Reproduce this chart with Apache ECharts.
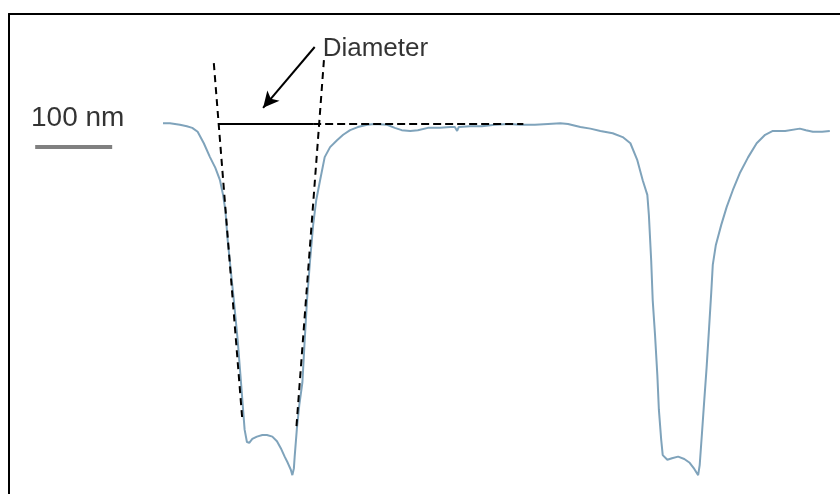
<!DOCTYPE html>
<html>
<head>
<meta charset="utf-8">
<script src="https://cdn.jsdelivr.net/npm/echarts@6.0.0/dist/echarts.min.js"></script>
<style>
  html, body { margin: 0; padding: 0; background: #fff; }
  #chart { width: 840px; height: 494px; }
</style>
</head>
<body>
<div id="chart"></div>
<script>
// Height profile across two pores: distance along the scan (nm) and height (nm, 0 = top surface)
const distanceNm = [
  0, 9, 22, 31, 38, 45, 53, 61, 68, 74,
  78, 81, 84, 88, 92, 97, 101, 104, 106, 109,
  112, 116, 122, 129, 135, 142, 148, 153, 158, 162,
  166, 168, 170, 171, 174, 177, 181, 184, 187, 191,
  195, 199, 204, 210, 217, 226, 234, 243, 253, 265,
  275, 291, 301, 310, 321, 331, 344, 360, 373, 379,
  382, 384, 399, 414, 431, 449, 464, 483, 500, 516,
  526, 542, 555, 568, 584, 597, 607, 616, 623, 629,
  631, 634, 636, 639, 642, 644, 647, 649, 655, 661,
  669, 677, 684, 690, 695, 697, 700, 703, 706, 709,
  712, 714, 718, 725, 732, 740, 749, 760, 771, 782,
  792, 808, 827, 835, 844, 856, 866
];
const heightNm = [
  1, 1, -1, -3, -5, -10, -25, -43, -57, -73,
  -92, -112, -151, -190, -229, -281, -332, -371, -397, -413,
  -414, -409, -406, -404, -404, -406, -412, -421, -432, -440,
  -449, -456, -447, -432, -394, -365, -336, -281, -229, -177,
  -131, -99, -73, -43, -30, -21, -14, -8, -4, -1,
  0, -1, -5, -8, -9, -8, -5, -5, -4, -4,
  -9, -4, -3, -3, -1, 0, -1, -1, 0, 1,
  0, -4, -6, -9, -12, -17, -25, -47, -73, -92,
  -118, -177, -229, -274, -326, -371, -410, -430, -436, -434,
  -432, -435, -440, -448, -456, -443, -401, -358, -316, -268,
  -219, -183, -157, -131, -108, -86, -64, -43, -25, -14,
  -9, -9, -6, -8, -10, -10, -9
];

// Guides fitted to the walls of the first pore, [distance, height]
const leftWallGuide = [[66, 79], [103, -384]];
const rightWallGuide = [[209, 83], [173, -397]];
// Pore diameter at the surface, and the surface level carried on to the right
const diameterSpan = [[72, 0], [195, 0]];
const surfaceLevel = [[195, 0], [468, 0]];
// Pointer from the caption towards the diameter line
const arrowFrom = [197, 100];
const arrowTo = [130, 21];
// Scale bar, 100 nm long
const scaleBar = [[-166, -30], [-66, -30]];
const scaleBarText = '100 nm';
const diameterText = 'Diameter';

// Same scale on both axes
const PX_PER_NM = 0.77;
const GRID = { left: 9, top: 14, right: 0, bottom: 0 };
const plotW = 840 - GRID.left - GRID.right;
const plotH = 494 - GRID.top - GRID.bottom;
const xMin = -200;
const xMax = xMin + plotW / PX_PER_NM;
const yMax = 110 / PX_PER_NM;
const yMin = yMax - plotH / PX_PER_NM;

const FONT = '"Liberation Sans", Arial, Helvetica, sans-serif';
const profile = distanceNm.map((d, i) => [d, heightNm[i]]);
const scaleMid = [(scaleBar[0][0] + scaleBar[1][0]) / 2, scaleBar[0][1]];

const frameLine = { show: true, onZero: false, lineStyle: { color: '#000', width: 2 } };

const chart = echarts.init(document.getElementById('chart'), null, { renderer: 'canvas' });
chart.setOption({
  animation: false,
  backgroundColor: '#fff',
  grid: GRID,
  xAxis: {
    type: 'value', position: 'top', min: xMin, max: xMax,
    axisLine: frameLine, axisTick: { show: false }, axisLabel: { show: false }, splitLine: { show: false }
  },
  yAxis: {
    type: 'value', position: 'left', min: yMin, max: yMax,
    axisLine: frameLine, axisTick: { show: false }, axisLabel: { show: false }, splitLine: { show: false }
  },
  series: [
    {
      name: 'profile', type: 'line', data: profile, showSymbol: false, clip: false,
      lineStyle: { color: '#7fa3bb', width: 2 }, z: 2
    },
    {
      name: 'left wall', type: 'line', data: leftWallGuide, showSymbol: false,
      lineStyle: { color: '#000', width: 2, type: [7, 5] }, z: 3
    },
    {
      name: 'right wall', type: 'line', data: rightWallGuide, showSymbol: false,
      lineStyle: { color: '#000', width: 2, type: [7, 5] }, z: 3
    },
    {
      name: 'diameter', type: 'line', data: diameterSpan, showSymbol: false,
      lineStyle: { color: '#000', width: 2 }, z: 3,
      markLine: {
        silent: true, symbol: ['none', 'arrow'], symbolSize: [12, 16],
        label: { show: false },
        lineStyle: { color: '#000', width: 2, type: 'solid' },
        data: [[{ coord: arrowFrom }, { coord: arrowTo }]]
      }
    },
    {
      name: 'surface', type: 'line', data: surfaceLevel, showSymbol: false,
      lineStyle: { color: '#000', width: 2, type: [8, 4] }, z: 3
    },
    {
      name: 'scale bar', type: 'line', data: scaleBar, showSymbol: false, clip: false,
      lineStyle: { color: '#808080', width: 4 }, z: 3
    },
    {
      name: 'labels', type: 'scatter', symbolSize: 0, clip: false, z: 4,
      data: [
        {
          value: scaleMid,
          label: { show: true, formatter: scaleBarText, position: 'top', distance: 15, offset: [4, 0],
                   fontSize: 28, fontFamily: FONT, color: '#000' }
        },
        {
          value: arrowFrom,
          label: { show: true, formatter: diameterText, position: 'right', distance: 8, offset: [0, 2],
                   fontSize: 26, fontFamily: FONT, color: '#000' }
        }
      ]
    }
  ]
});
</script>
</body>
</html>
